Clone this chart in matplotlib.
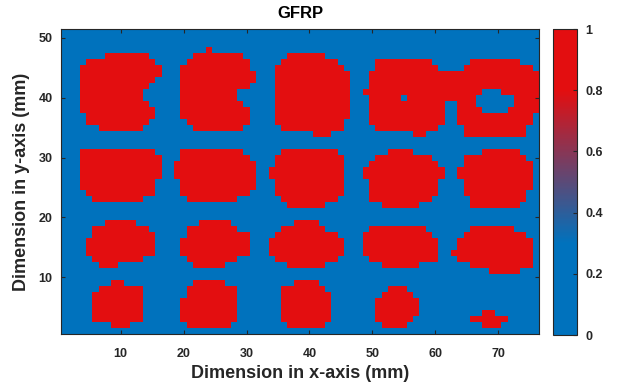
import numpy as np
import matplotlib
matplotlib.use("Agg")
import matplotlib.pyplot as plt
from matplotlib.colors import LinearSegmentedColormap

# ---- data: GFRP damage map, 76 x 51 cells (1 mm grid) ----
x_mm = np.arange(1, 77)
y_mm = np.arange(1, 52)

# red (value 1) runs per row: y (mm) -> list of (x_start, x_end) in mm
band_top = {
    48: [(24, 24)],
    47: [(8, 14), (22, 29), (37, 42)],
    46: [(5, 15), (21, 30), (36, 44), (51, 59), (66, 73)],
    45: [(4, 16), (20, 30), (35, 45), (51, 60), (65, 75)],
    44: [(4, 16), (20, 31), (35, 46), (50, 76)],
    43: [(4, 15), (20, 31), (35, 46), (50, 76)],
    42: [(4, 14), (20, 30), (35, 46), (50, 76)],
    41: [(4, 13), (20, 28), (35, 46), (49, 67), (71, 76)],
    40: [(4, 13), (20, 28), (35, 46), (50, 54), (56, 66), (73, 76)],
    39: [(4, 14), (20, 29), (35, 46), (50, 61), (64, 66), (73, 76)],
    38: [(4, 15), (20, 30), (35, 46), (50, 61), (64, 67), (72, 76)],
    37: [(5, 15), (20, 30), (35, 46), (50, 61), (64, 75)],
    36: [(5, 14), (21, 30), (35, 45), (50, 61), (64, 75)],
    35: [(7, 13), (22, 29), (36, 45), (51, 60), (65, 74)],
    34: [(41, 43), (57, 58), (65, 74)],
}
band_upper_mid = {
    31: [(4, 15), (20, 29), (36, 44), (53, 56), (68, 73)],
    30: [(4, 16), (20, 30), (35, 45), (51, 59), (65, 74)],
    29: [(4, 16), (19, 31), (35, 45), (50, 60), (65, 75)],
    28: [(4, 16), (19, 31), (34, 45), (49, 61), (64, 75)],
    27: [(4, 16), (19, 31), (34, 45), (49, 61), (64, 75)],
    26: [(4, 15), (20, 31), (35, 45), (50, 60), (65, 75)],
    25: [(4, 15), (20, 31), (35, 45), (50, 60), (65, 75)],
    24: [(5, 15), (20, 30), (35, 45), (50, 60), (65, 74)],
    23: [(6, 13), (21, 28), (36, 44), (50, 59), (66, 74)],
    22: [(37, 42), (52, 57), (66, 73)],
}
band_lower_mid = {
    19: [(8, 12), (23, 27), (38, 41)],
    18: [(6, 14), (21, 28), (36, 42), (50, 58), (66, 72)],
    17: [(6, 15), (21, 30), (35, 44), (49, 59), (65, 74)],
    16: [(5, 15), (20, 30), (34, 45), (49, 60), (64, 75)],
    15: [(5, 15), (20, 30), (34, 45), (49, 60), (64, 75)],
    14: [(5, 15), (20, 30), (34, 45), (49, 60), (63, 75)],
    13: [(6, 13), (21, 28), (35, 44), (50, 60), (64, 75)],
    12: [(7, 9), (22, 26), (37, 42), (52, 57), (66, 75)],
    11: [(69, 73)],
}
band_bottom = {
    9: [(9, 10), (22, 26), (38, 41)],
    8: [(7, 13), (21, 28), (36, 42), (53, 55)],
    7: [(6, 13), (21, 28), (36, 43), (52, 56)],
    6: [(6, 13), (20, 28), (36, 43), (51, 57)],
    5: [(6, 13), (20, 28), (36, 43), (51, 57)],
    4: [(6, 13), (20, 28), (36, 43), (51, 57), (68, 69)],
    3: [(6, 13), (20, 28), (36, 43), (51, 56), (66, 71)],
    2: [(9, 11), (21, 27), (37, 42), (52, 55), (68, 70)],
}

x_ticks = [10, 20, 30, 40, 50, 60, 70]
y_ticks = [10, 20, 30, 40, 50]
cbar_ticks = [0, 0.2, 0.4, 0.6, 0.8, 1]
cbar_labels = ["0", "0.2", "0.4", "0.6", "0.8", "1"]

# ---- build grid ----
mask = np.zeros((len(y_mm), len(x_mm)))
for band in (band_top, band_upper_mid, band_lower_mid, band_bottom):
    for y, spans in band.items():
        for x1, x2 in spans:
            mask[(y_mm == y), (x_mm >= x1) & (x_mm <= x2)] = 1

blue = "#0072BD"
red = "#E30E10"
cmap = LinearSegmentedColormap.from_list(
    "gfrp", [(0.0, blue), (0.3, blue), (0.8, red), (1.0, red)], N=256)

plt.rcParams["font.family"] = ["Liberation Sans", "DejaVu Sans"]
plt.rcParams["font.weight"] = "bold"

fig = plt.figure(figsize=(6.18, 3.86), dpi=100)
ax = fig.add_axes([61 / 618, 52 / 386, 478 / 618, 305 / 386])
im = ax.imshow(mask, origin="lower", cmap=cmap, vmin=0, vmax=1,
               extent=[x_mm[0] - 0.5, x_mm[-1] + 0.5, y_mm[0] - 0.5, y_mm[-1] + 0.5],
               aspect="auto", interpolation="nearest")

ax.set_xticks(x_ticks)
ax.set_yticks(y_ticks)
ax.tick_params(direction="in", length=3, width=0.8, top=True, right=True,
               labelsize=9, colors="#262626")
ax.tick_params(axis="x", pad=10)
ax.tick_params(axis="y", pad=6)
for lbl in ax.get_xticklabels() + ax.get_yticklabels():
    lbl.set_fontweight("bold")
for s in ax.spines.values():
    s.set_color("#262626")
    s.set_linewidth(0.8)

ax.set_title("GFRP", fontsize=12, fontweight="bold", color="black", pad=8)
ax.set_xlabel("Dimension in x-axis (mm)", fontsize=13, fontweight="bold",
              color="#262626", labelpad=4)
ax.set_ylabel("Dimension in y-axis (mm)", fontsize=13, fontweight="bold",
              color="#262626", labelpad=6)

cax = fig.add_axes([553 / 618, 51 / 386, 24 / 618, 306 / 386])
cb = fig.colorbar(im, cax=cax, ticks=cbar_ticks)
cb.ax.set_yticklabels(cbar_labels)
cb.ax.tick_params(direction="in", length=3, width=0.8, labelsize=9,
                  colors="#262626", pad=6)
for lbl in cb.ax.get_yticklabels():
    lbl.set_fontweight("bold")
cb.outline.set_edgecolor("#262626")
cb.outline.set_linewidth(0.8)

fig.savefig("out.png", dpi=100)
